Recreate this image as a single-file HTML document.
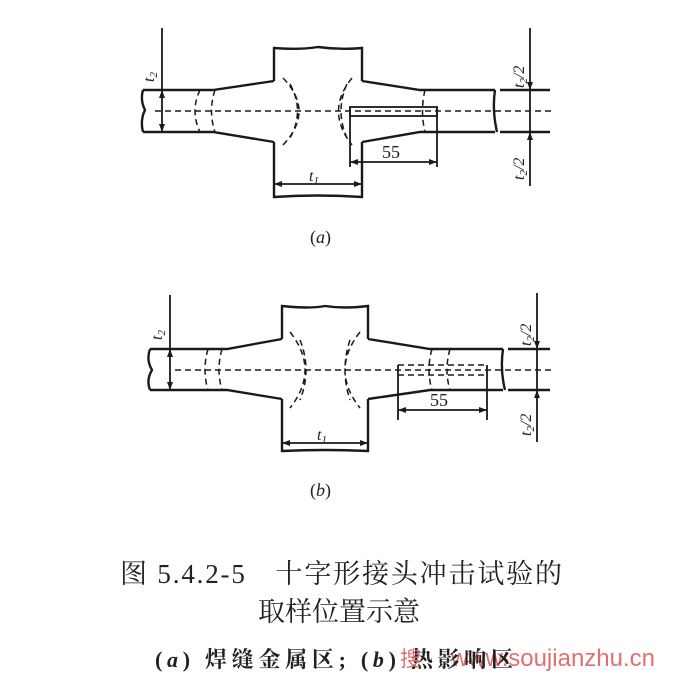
<!DOCTYPE html>
<html><head><meta charset="utf-8"><style>
body{margin:0;background:#fff;}
svg{display:block}
.t{font-family:"Liberation Serif","Noto Serif CJK SC",serif;fill:#222}
</style></head><body>
<svg width="681" height="685" viewBox="0 0 681 685" xmlns="http://www.w3.org/2000/svg">
<g stroke="#1a1a1a" stroke-width="2.4" fill="none">
<!-- (a) -->
<path d="M143 90 H213 L274 81 M274 142 L213 132 H143 M143 90 Q140 100 145 110 Q140 120 143 132"/>
<path d="M274 81 V48 Q300 50 318 47 Q340 50 362 48 V81 M362 81 L420 90 H495 M362 142 L420 132 H495"/>
<path d="M495 90 Q492 110 497 132"/>
<path d="M274 142 V197 Q318 194 362 197 V142"/>
<path d="M500 90 H550 M500 132 H550"/>
<g stroke-width="1.8">
<path d="M162 28 V133 M530 28 V186 M274 184 H362 M350 162 H437 M350 107 V167 M437 107 V167"/>
<rect x="350" y="107" width="87" height="9"/>
</g>
<g stroke-width="1.5" stroke-dasharray="6 4">
<path d="M155 111 H555"/>
<path d="M200 90 Q190 111 200 132 M215 90 Q208 111 215 132 M283 78 Q315 111 283 145 M290 84 Q305 111 290 138 M352 78 Q325 111 352 145 M347 84 Q335 111 347 138 M425 90 Q420 111 425 132"/>
</g>
<!-- (b) -->
<path d="M150 349 H227 L282 339 M282 399 L227 390 H150 M150 349 Q146 360 152 370 Q146 380 150 390"/>
<path d="M282 339 V306 Q310 309 325 306 Q345 309 368 306 V339 M368 339 L430 349 H503 M368 399 L430 390 H503"/>
<path d="M503 349 Q500 370 505 390"/>
<path d="M282 399 V451 Q325 449 368 451 V399"/>
<path d="M508 349 H550 M508 390 H550"/>
<g stroke-width="1.8">
<path d="M170 295 V390 M537 293 V442 M282 443 H368 M398 410 H487 M398 365 V420 M487 365 V420"/>
</g>
<g stroke-width="1.5" stroke-dasharray="6 4">
<path d="M175 370 H555"/>
<path d="M398 365 H487 M398 375 H487"/>
<path d="M208 349 Q202 370 208 390 M222 349 Q216 370 222 390 M290 332 Q320 370 290 408 M300 340 Q312 370 300 400 M360 332 Q330 370 360 408 M350 340 Q340 370 350 400 M432 349 Q426 370 432 390 M450 349 Q444 370 450 390"/>
</g>
</g>
<g fill="#1a1a1a">
<path d="M162 90 l-3 8 h6z M162 132 l-3 -8 h6z M530 90 l-3 -8 h6z M530 132 l-3 8 h6z M274 184 l8 -3 v6z M362 184 l-8 -3 v6z M350 162 l8 -3 v6z M437 162 l-8 -3 v6z"/>
<path d="M170 349 l-3 8 h6z M170 390 l-3 -8 h6z M537 349 l-3 -8 h6z M537 390 l-3 8 h6z M282 443 l8 -3 v6z M368 443 l-8 -3 v6z M398 410 l8 -3 v6z M487 410 l-8 -3 v6z"/>
</g>
<g class="t" font-style="italic" font-size="16">
<text transform="translate(154 82) rotate(-90)">t<tspan font-size="11" dy="3">2</tspan></text>
<text transform="translate(524 88) rotate(-90)">t<tspan font-size="11" dy="3">2</tspan><tspan dy="-3">/2</tspan></text>
<text transform="translate(524 180) rotate(-90)">t<tspan font-size="11" dy="3">2</tspan><tspan dy="-3">/2</tspan></text>
<text x="309" y="181">t<tspan font-size="11" dy="3">1</tspan></text>
<text transform="translate(162 340) rotate(-90)">t<tspan font-size="11" dy="3">2</tspan></text>
<text transform="translate(531 346) rotate(-90)">t<tspan font-size="11" dy="3">2</tspan><tspan dy="-3">/2</tspan></text>
<text transform="translate(531 436) rotate(-90)">t<tspan font-size="11" dy="3">2</tspan><tspan dy="-3">/2</tspan></text>
<text x="317" y="440">t<tspan font-size="11" dy="3">1</tspan></text>
</g>
<g class="t" font-size="18">
<text x="382" y="158">55</text>
<text x="430" y="406">55</text>
<text x="310" y="243">(<tspan font-style="italic">a</tspan>)</text>
<text x="310" y="496">(<tspan font-style="italic">b</tspan>)</text>
</g>
<g class="t" font-size="27">
<text x="120" y="583" textLength="442" lengthAdjust="spacing">图 5.4.2-5　十字形接头冲击试验的</text>
<text x="258" y="621" textLength="162" lengthAdjust="spacing">取样位置示意</text>
</g>
<text x="655" y="666" text-anchor="end" font-size="24" fill="#e07070" font-family="Liberation Sans,sans-serif">www.soujianzhu.cn</text>
<text class="t" x="155" y="667" font-size="22" font-weight="bold" textLength="358" lengthAdjust="spacing">(<tspan font-style="italic">a</tspan>) 焊缝金属区; (<tspan font-style="italic">b</tspan>) 热影响区</text>
<text x="400" y="666" font-size="21" fill="#e07070" font-family="Liberation Sans,Noto Sans CJK SC,sans-serif">搜</text>
</svg>
</body></html>
